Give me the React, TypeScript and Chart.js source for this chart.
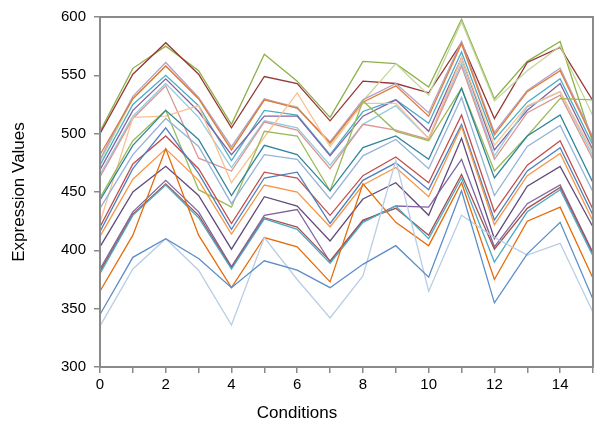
import React, { useEffect, useRef } from "react";
import { Chart, registerables } from "chart.js";

Chart.register(...registerables);

const conditions = [0, 1, 2, 3, 4, 5, 6, 7, 8, 9, 10, 11, 12, 13, 14, 15];
const yTickValues = [300, 350, 400, 450, 500, 550, 600];

const olive = [502, 556, 575, 554, 508, 568, 545, 514, 562, 560, 540, 598, 530, 562, 579, 492];
const darkRed = [500, 551, 578, 551, 505, 549, 543, 511, 545, 543, 535, 578, 513, 561, 574, 528];
const lightGreen = [476, 530, 558, 530, 487, 529, 523, 491, 528, 560, 533, 596, 528, 554, 575, 515];
const lavender = [478, 532, 561, 531, 489, 530, 522, 493, 529, 543, 518, 579, 501, 537, 556, 497];
const brown = [482, 530, 558, 530, 486, 529, 522, 492, 527, 541, 515, 577, 499, 536, 554, 495];
const teal = [473, 525, 550, 524, 477, 520, 516, 482, 519, 529, 509, 570, 495, 527, 547, 490];
const purple = [469, 520, 547, 519, 482, 515, 515, 481, 515, 529, 502, 565, 486, 520, 543, 486];
const lightCyan = [465, 515, 543, 514, 471, 511, 505, 473, 508, 524, 496, 561, 481, 523, 536, 481];
const pink = [463, 513, 541, 479, 468, 510, 503, 470, 508, 503, 495, 558, 478, 518, 533, 478];
const lightOrange = [424, 514, 515, 524, 458, 497, 535, 489, 526, 526, 496, 565, 490, 524, 536, 484];
const greenMid = [445, 494, 520, 452, 437, 502, 498, 451, 528, 502, 494, 539, 468, 498, 530, 529];
const teal2 = [443, 490, 520, 495, 447, 490, 482, 451, 488, 498, 478, 539, 462, 498, 516, 458];
const lightBlueGray = [436, 482, 513, 489, 440, 482, 478, 444, 481, 495, 470, 531, 447, 489, 507, 450];
const red = [420, 474, 498, 470, 423, 467, 462, 430, 464, 480, 458, 516, 433, 473, 494, 435];
const blue = [416, 470, 505, 466, 418, 462, 467, 423, 460, 475, 452, 508, 426, 468, 488, 430];
const orange = [412, 461, 487, 460, 414, 456, 450, 420, 456, 471, 446, 506, 422, 464, 483, 425];
const darkPurple = [403, 450, 472, 447, 401, 446, 438, 408, 444, 458, 430, 496, 410, 455, 472, 420];
const purple3 = [384, 433, 460, 433, 386, 430, 435, 390, 425, 438, 437, 478, 403, 440, 456, 398];
const darkRed2 = [382, 431, 457, 430, 385, 428, 420, 391, 426, 436, 413, 465, 401, 436, 454, 397];
const cyan = [380, 430, 456, 428, 384, 427, 418, 389, 424, 438, 410, 462, 390, 433, 452, 395];
const orange2 = [365, 413, 487, 413, 368, 411, 403, 373, 457, 424, 404, 458, 375, 425, 437, 376];
const steelBlue = [345, 394, 410, 393, 368, 391, 383, 368, 388, 404, 377, 451, 355, 397, 424, 358];
const paleBlue = [335, 384, 410, 383, 336, 411, 375, 342, 378, 477, 365, 430, 411, 396, 406, 347];

const seriesList = [
  { name: "S1", color: "#5B8DC9", values: steelBlue },
  { name: "S2", color: "#B9CDE5", values: paleBlue },
  { name: "S3", color: "#E46C0A", values: orange2 },
  { name: "S4", color: "#4BACC6", values: cyan },
  { name: "S5", color: "#A5504D", values: darkRed2 },
  { name: "S6", color: "#8064A2", values: purple3 },
  { name: "S7", color: "#604A7B", values: darkPurple },
  { name: "S8", color: "#F79646", values: orange },
  { name: "S9", color: "#4F81BD", values: blue },
  { name: "S10", color: "#C0504D", values: red },
  { name: "S11", color: "#95B3D7", values: lightBlueGray },
  { name: "S12", color: "#31859C", values: teal2 },
  { name: "S13", color: "#9BBB59", values: greenMid },
  { name: "S14", color: "#FAC090", values: lightOrange },
  { name: "S15", color: "#D99694", values: pink },
  { name: "S16", color: "#93CDDD", values: lightCyan },
  { name: "S17", color: "#8064A2", values: purple },
  { name: "S18", color: "#4BACC6", values: teal },
  { name: "S19", color: "#E07B39", values: brown },
  { name: "S20", color: "#B3A2C7", values: lavender },
  { name: "S21", color: "#C3D69B", values: lightGreen },
  { name: "S22", color: "#953735", values: darkRed },
  { name: "S23", color: "#8DB049", values: olive },
];

const FONT = "'Liberation Sans', Arial, sans-serif";
const AXIS_COLOR = "#8a8a8a";

const framePlugin = {
  id: "frameAndTitles",
  afterDraw(chart: any) {
    const { ctx, chartArea } = chart;
    ctx.save();
    ctx.strokeStyle = AXIS_COLOR;
    ctx.lineWidth = 2;
    ctx.strokeRect(chartArea.left, chartArea.top, chartArea.right - chartArea.left, chartArea.bottom - chartArea.top);
    ctx.fillStyle = "#000";
    ctx.font = `17px ${FONT}`;
    ctx.textAlign = "center";
    ctx.textBaseline = "middle";
    ctx.fillText("Conditions", 297, 413);
    ctx.translate(19, (chartArea.top + chartArea.bottom) / 2);
    ctx.rotate(-Math.PI / 2);
    ctx.fillText("Expression Values", 0, 0);
    ctx.restore();
  },
};

export default function App() {
  const canvasRef = useRef<HTMLCanvasElement | null>(null);

  useEffect(() => {
    document.body.style.margin = "0";
    const canvas = canvasRef.current;
    if (!canvas) return;
    const chart = new Chart(canvas, {
      type: "line",
      data: {
        datasets: seriesList.map((s) => ({
          label: s.name,
          data: s.values.map((v, i) => ({ x: conditions[i], y: v })),
          borderColor: s.color,
          backgroundColor: s.color,
          borderWidth: 1.3,
          pointRadius: 0,
          tension: 0,
          fill: false,
        })),
      },
      options: {
        responsive: false,
        animation: false,
        layout: { padding: { left: 0, right: 7, top: 12, bottom: 0 } },
        plugins: {
          legend: { display: false },
          tooltip: { enabled: false },
        },
        scales: {
          x: {
            type: "linear",
            min: 0,
            max: 15,
            afterFit: (s: any) => {
              s.height = 62;
            },
            afterBuildTicks: (s: any) => {
              s.ticks = conditions.map((c) => ({ value: c }));
            },
            ticks: {
              autoSkip: false,
              maxRotation: 0,
              padding: 3,
              color: "#000",
              font: { family: FONT, size: 15 },
              callback: (v: any) => (Number(v) % 2 === 0 ? String(v) : ""),
            },
            grid: {
              display: true,
              drawOnChartArea: false,
              drawTicks: true,
              tickLength: 6,
              color: AXIS_COLOR,
              lineWidth: 1.5,
            },
            border: { display: false },
          },
          y: {
            type: "linear",
            min: 300,
            max: 600,
            afterFit: (s: any) => {
              s.width = 100;
            },
            afterBuildTicks: (s: any) => {
              s.ticks = yTickValues.map((v) => ({ value: v }));
            },
            ticks: {
              padding: 8,
              color: "#000",
              font: { family: FONT, size: 15 },
            },
            grid: {
              display: true,
              drawOnChartArea: false,
              drawTicks: true,
              tickLength: 6,
              color: AXIS_COLOR,
              lineWidth: 1.5,
            },
            border: { display: false },
          },
        },
      },
      plugins: [framePlugin],
    });
    return () => chart.destroy();
  }, []);

  return (
    <div style={{ width: 600, height: 429, background: "#fff" }}>
      <canvas ref={canvasRef} width={600} height={429} />
    </div>
  );
}
